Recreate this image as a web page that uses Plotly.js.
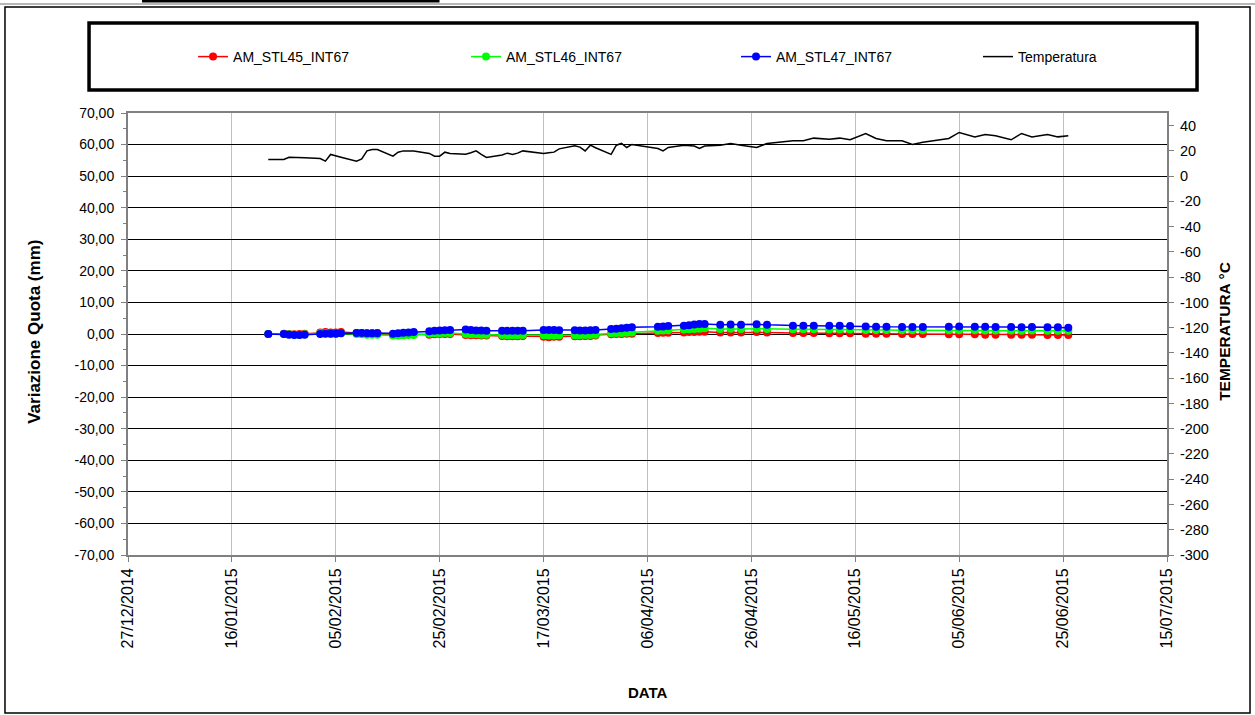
<!DOCTYPE html>
<html>
<head>
<meta charset="utf-8">
<script src="https://cdn.plot.ly/plotly-3.0.1.min.js"></script>
<style>html,body{margin:0;padding:0;background:#fff;}#chart{width:1255px;height:715px;}</style>
</head>
<body>
<div id="chart"></div>
<script>
const dates = [
 '2015-01-23',
 '2015-01-26','2015-01-27','2015-01-28','2015-01-29','2015-01-30',
 '2015-02-02','2015-02-03','2015-02-04','2015-02-05','2015-02-06',
 '2015-02-09','2015-02-10','2015-02-11','2015-02-12','2015-02-13',
 '2015-02-16','2015-02-17','2015-02-18','2015-02-19','2015-02-20',
 '2015-02-23','2015-02-24','2015-02-25','2015-02-26','2015-02-27',
 '2015-03-02','2015-03-03','2015-03-04','2015-03-05','2015-03-06',
 '2015-03-09','2015-03-10','2015-03-11','2015-03-12','2015-03-13',
 '2015-03-17','2015-03-18','2015-03-19','2015-03-20',
 '2015-03-23','2015-03-24','2015-03-25','2015-03-26','2015-03-27',
 '2015-03-30','2015-03-31','2015-04-01','2015-04-02','2015-04-03',
 '2015-04-08','2015-04-09','2015-04-10',
 '2015-04-13','2015-04-14','2015-04-15','2015-04-16','2015-04-17',
 '2015-04-20','2015-04-22','2015-04-24',
 '2015-04-27','2015-04-29',
 '2015-05-04','2015-05-06','2015-05-08',
 '2015-05-11','2015-05-13','2015-05-15',
 '2015-05-18','2015-05-20','2015-05-22',
 '2015-05-25','2015-05-27','2015-05-29',
 '2015-06-03','2015-06-05',
 '2015-06-08','2015-06-10','2015-06-12',
 '2015-06-15','2015-06-17','2015-06-19',
 '2015-06-22','2015-06-24','2015-06-26'
];

const stl45 = [
 0.0,
 0.1, 0.0, -0.1, 0.0, 0.1,
 0.5, 0.6, 0.5, 0.5, 0.6,
 0.3, 0.3, 0.2, 0.2, 0.3,
 -0.3, -0.2, -0.2, -0.1, -0.1,
 -0.2, -0.1, 0.0, 0.0, 0.0,
 -0.3, -0.4, -0.4, -0.5, -0.5,
 -0.6, -0.7, -0.7, -0.7, -0.6,
 -0.9, -1.0, -0.9, -0.9,
 -0.7, -0.7, -0.6, -0.6, -0.5,
 -0.1, 0.0, 0.0, 0.1, 0.1,
 0.3, 0.4, 0.4,
 0.5, 0.6, 0.6, 0.7, 0.7,
 0.5, 0.5, 0.5,
 0.6, 0.5,
 0.3, 0.3, 0.3,
 0.2, 0.2, 0.2,
 0.1, 0.1, 0.1,
 0.0, 0.0, 0.0,
 -0.1, -0.1,
 -0.1, -0.2, -0.2,
 -0.2, -0.2, -0.2,
 -0.3, -0.3, -0.3
];

const stl46 = [
 0.0,
 0.0, -0.1, -0.2, -0.2, -0.1,
 0.2, 0.2, 0.1, 0.1, 0.2,
 0.0, -0.1, -0.2, -0.2, -0.2,
 -0.5, -0.5, -0.4, -0.3, -0.3,
 0.1, 0.2, 0.2, 0.3, 0.3,
 0.0, -0.1, -0.1, -0.2, -0.2,
 -0.3, -0.4, -0.4, -0.4, -0.3,
 -0.4, -0.5, -0.5, -0.4,
 -0.4, -0.4, -0.3, -0.3, -0.2,
 0.2, 0.3, 0.3, 0.4, 0.5,
 1.0, 1.1, 1.2,
 1.4, 1.5, 1.6, 1.7, 1.8,
 1.6, 1.7, 1.6,
 1.7, 1.6,
 1.5, 1.5, 1.5,
 1.4, 1.4, 1.4,
 1.3, 1.3, 1.3,
 1.2, 1.2, 1.2,
 1.2, 1.2,
 1.2, 1.1, 1.1,
 1.1, 1.0, 1.1,
 1.0, 1.0, 1.0
];

const stl47 = [
 0.0,
 0.0, -0.2, -0.3, -0.3, -0.2,
 0.0, 0.1, 0.1, 0.1, 0.2,
 0.3, 0.3, 0.2, 0.2, 0.2,
 0.1, 0.2, 0.4, 0.5, 0.6,
 0.9, 1.0, 1.1, 1.2, 1.3,
 1.4, 1.3, 1.1, 1.1, 1.0,
 1.0, 1.0, 1.0, 1.0, 1.0,
 1.3, 1.3, 1.3, 1.2,
 1.2, 1.1, 1.1, 1.2, 1.3,
 1.6, 1.7, 1.8, 2.0, 2.1,
 2.3, 2.4, 2.5,
 2.6, 2.8, 3.0, 3.2, 3.2,
 2.9, 3.0, 2.9,
 3.1, 2.9,
 2.6, 2.6, 2.6,
 2.6, 2.6, 2.5,
 2.4, 2.3, 2.3,
 2.2, 2.2, 2.2,
 2.3, 2.4,
 2.3, 2.3, 2.2,
 2.2, 2.1, 2.2,
 2.1, 2.1, 2.0
];

const temperatura = [
 13.2,
 13.2, 15.0, 15.0, 15.0, 14.5,
 14.0, 11.9, 17.2, 16.3, 15.0,
 11.9, 13.7, 20.0, 21.1, 21.1,
 15.8, 19.0, 20.0, 20.0, 20.0,
 18.0, 15.8, 15.8, 19.0, 18.0,
 17.4, 18.5, 20.0, 17.2, 14.8,
 16.8, 18.2, 17.2, 18.2, 20.0,
 18.0, 18.5, 19.0, 21.6,
 24.0, 23.0, 20.0, 24.5, 22.5,
 17.2, 24.5, 25.9, 22.7, 25.1,
 21.9, 20.0, 22.7,
 24.5, 24.3, 23.9, 21.9, 23.9,
 24.5, 25.9, 24.5,
 22.7, 25.9,
 28.0, 28.0, 30.1,
 29.3, 30.1, 28.8,
 33.8, 29.8, 28.0,
 28.0, 25.1, 26.9,
 29.8, 34.6,
 31.1, 33.0, 32.0,
 28.8, 33.8, 31.1,
 33.0, 31.1, 32.0
];

const seriesNames = ['AM_STL45_INT67', 'AM_STL46_INT67', 'AM_STL47_INT67', 'Temperatura'];
const leftTicks = [70, 60, 50, 40, 30, 20, 10, 0, -10, -20, -30, -40, -50, -60, -70];
const rightTicks = [40, 20, 0, -20, -40, -60, -80, -100, -120, -140, -160, -180, -200, -220, -240, -260, -280, -300];

const FONT = 'Liberation Sans, Arial, sans-serif';
const leftText = leftTicks.map(v => v.toFixed(2).replace('.', ','));
const rightText = rightTicks.map(v => String(v));

function ptTrace(y, name, color, leg) {
  return {
    x: dates, y: y, name: name, type: 'scatter', mode: 'lines+markers',
    line: {color: color, width: 1.5},
    marker: {color: color, size: 8, symbol: 'circle'},
    legend: leg, yaxis: 'y'
  };
}

const data = [
  ptTrace(stl45, seriesNames[0], '#ff0000', 'legend'),
  ptTrace(stl46, seriesNames[1], '#00ff00', 'legend2'),
  ptTrace(stl47, seriesNames[2], '#0000ff', 'legend3'),
  {x: dates, y: temperatura, name: seriesNames[3], type: 'scatter', mode: 'lines',
   line: {color: '#000000', width: 1.5}, yaxis: 'y2', legend: 'legend4'}
];

function leg(x) {
  return {x: x, y: 1.1267, xanchor: 'left', yanchor: 'middle', orientation: 'h',
          bgcolor: 'rgba(0,0,0,0)', borderwidth: 0, font: {family: FONT, size: 14, color: '#000'}};
}

const layout = {
  width: 1255, height: 715,
  margin: {l: 128, r: 88, t: 113, b: 160, pad: 0},
  paper_bgcolor: '#ffffff', plot_bgcolor: '#ffffff',
  font: {family: FONT, size: 14, color: '#000'},
  showlegend: true,
  legend: leg(0.0626),
  legend2: leg(0.3253),
  legend3: leg(0.5852),
  legend4: leg(0.8181),
  xaxis: {
    type: 'date',
    range: ['2014-12-27', '2015-07-15'],
    tick0: '2014-12-27', dtick: 20 * 86400000,
    tickformat: '%d/%m/%Y', tickangle: -90,
    ticks: 'outside', ticklen: 5, tickcolor: '#808080',
    showgrid: true, gridcolor: '#c0c0c0', gridwidth: 1,
    showline: true, linecolor: '#808080', linewidth: 2, mirror: true,
    zeroline: false,
    tickfont: {family: FONT, size: 16, color: '#000'}
  },
  yaxis: {
    range: [-70, 70],
    tickvals: leftTicks, ticktext: leftText,
    ticks: 'outside', ticklen: 5, tickcolor: '#808080',
    ticklabelstandoff: 4,
    minor: {dtick: 5, tick0: 0, ticks: 'outside', ticklen: 3, tickcolor: '#808080', showgrid: false},
    showgrid: true, gridcolor: '#000000', gridwidth: 1,
    zeroline: true, zerolinecolor: '#000000', zerolinewidth: 1,
    showline: true, linecolor: '#808080', linewidth: 2,
    tickfont: {family: FONT, size: 14, color: '#000'}
  },
  yaxis2: {
    overlaying: 'y', side: 'right',
    range: [-300, 50],
    tickvals: rightTicks, ticktext: rightText,
    ticks: 'outside', ticklen: 5, tickcolor: '#808080',
    ticklabelstandoff: 3,
    showgrid: false, zeroline: false,
    showline: true, linecolor: '#808080', linewidth: 2,
    tickfont: {family: FONT, size: 14.5, color: '#000'}
  },
  annotations: [
    {text: '<b>Variazione Quota (mm)</b>', xref: 'paper', yref: 'paper', x: -0.0895, y: 0.505,
     textangle: -90, showarrow: false, xanchor: 'center', yanchor: 'middle', font: {family: FONT, size: 17, color: '#000'}},
    {text: '<b>TEMPERATURA °C</b>', xref: 'paper', yref: 'paper', x: 1.0559, y: 0.505,
     textangle: -90, showarrow: false, xanchor: 'center', yanchor: 'middle', font: {family: FONT, size: 15.5, color: '#000'}},
    {text: '<b>DATA</b>', xref: 'paper', yref: 'paper', x: 0.5, y: -0.312,
     showarrow: false, xanchor: 'center', yanchor: 'middle', font: {family: FONT, size: 15, color: '#000'}}
  ],
  shapes: [
    {type: 'line', xref: 'paper', yref: 'paper', x0: -0.1232, x1: 1.0847, y0: 1.2466, y1: 1.2466,
     line: {color: '#a0a0a0', width: 1.5}},
    {type: 'line', xref: 'paper', yref: 'paper', x0: 0.0135, x1: 0.2998, y0: 1.2534, y1: 1.2534,
     line: {color: '#000000', width: 3}},
    {type: 'rect', xref: 'paper', yref: 'paper', x0: -0.1184, x1: 1.0799, y0: -0.3575, y1: 1.2398,
     line: {color: '#000000', width: 1.5}},
    {type: 'rect', xref: 'paper', yref: 'paper', x0: -0.0375, x1: 1.0289, y0: 1.0520, y1: 1.2036,
     line: {color: '#000000', width: 3.5}}
  ]
};

Plotly.newPlot('chart', data, layout, {displayModeBar: false, staticPlot: true});
</script>
</body>
</html>
